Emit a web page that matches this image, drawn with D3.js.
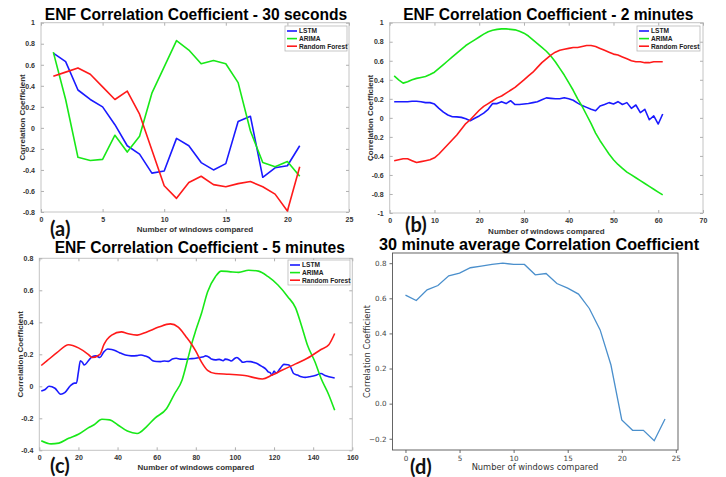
<!DOCTYPE html>
<html>
<head>
<meta charset="UTF-8">
<script src="https://cdn.jsdelivr.net/npm/d3@7"></script>
<style>
  body { margin: 0; background: #fff; }
  svg { display: block; }
  .mt text { font-family: "Liberation Sans", Arial, sans-serif; font-weight: bold; }
  .py text { font-family: "DejaVu Sans", sans-serif; }
  .py text.ttl { font-family: "Liberation Sans", Arial, sans-serif; font-weight: bold; }
</style>
</head>
<body>
<svg width="726" height="477"></svg>
<script>
// (a) 30 seconds, windows 1..21
var aX = d3.range(1, 22);
var aLSTM = [0.71, 0.63, 0.36, 0.27, 0.20, 0.03, -0.17, -0.25, -0.43, -0.41, -0.10, -0.17, -0.33, -0.40, -0.34, 0.06, 0.11, -0.47, -0.38, -0.36, -0.17];
var aARIMA = [0.72, 0.27, -0.28, -0.31, -0.30, -0.07, -0.23, -0.08, 0.33, 0.58, 0.83, 0.74, 0.61, 0.64, 0.61, 0.43, -0.03, -0.33, -0.37, -0.32, -0.46];
var aRF = [0.49, 0.53, 0.57, 0.51, 0.39, 0.27, 0.35, 0.13, -0.21, -0.55, -0.67, -0.52, -0.46, -0.54, -0.56, -0.53, -0.51, -0.56, -0.63, -0.79, -0.37];

// (b) 2 minutes, windows 1..61
var bX = d3.range(1, 62);
var bLSTM = [0.17, 0.17, 0.17, 0.17, 0.174, 0.174, 0.17, 0.16, 0.16, 0.145,
  0.10, 0.06, 0.03, 0.012, 0.01, 0.005, -0.01, -0.03, -0.005, 0.02,
  0.05, 0.09, 0.15, 0.15, 0.17, 0.15, 0.18, 0.14, 0.14, 0.145,
  0.15, 0.16, 0.17, 0.19, 0.21, 0.205, 0.20, 0.20, 0.212, 0.20,
  0.185, 0.155, 0.13, 0.11, 0.09, 0.075, 0.125, 0.14, 0.16, 0.146,
  0.17, 0.14, 0.16, 0.10, 0.135, 0.055, 0.09, -0.02, 0.02, -0.065, 0.04];
var bARIMA = [0.44, 0.40, 0.365, 0.38, 0.40, 0.415, 0.425, 0.435, 0.455, 0.48,
  0.52, 0.56, 0.60, 0.64, 0.68, 0.72, 0.76, 0.79, 0.82, 0.85,
  0.88, 0.905, 0.92, 0.93, 0.935, 0.935, 0.93, 0.925, 0.91, 0.89,
  0.86, 0.82, 0.78, 0.74, 0.70, 0.65, 0.59, 0.52, 0.45, 0.37,
  0.29, 0.20, 0.12, 0.03, -0.06, -0.16, -0.24, -0.31, -0.38, -0.44,
  -0.49, -0.53, -0.57, -0.60, -0.63, -0.66, -0.69, -0.72, -0.75, -0.78, -0.81];
var bRF = [-0.45, -0.44, -0.43, -0.43, -0.45, -0.47, -0.46, -0.45, -0.44, -0.42,
  -0.38, -0.33, -0.28, -0.23, -0.18, -0.12, -0.06, -0.02, 0.03, 0.08,
  0.12, 0.15, 0.18, 0.21, 0.23, 0.26, 0.29, 0.32, 0.36, 0.40,
  0.44, 0.48, 0.53, 0.58, 0.62, 0.66, 0.69, 0.71, 0.72, 0.73,
  0.74, 0.74, 0.75, 0.76, 0.76, 0.75, 0.73, 0.71, 0.69, 0.67,
  0.66, 0.64, 0.62, 0.60, 0.59, 0.59, 0.58, 0.58, 0.59, 0.59, 0.59];

// (c) 5 minutes, [window, value]
var cLSTM = [[1,-0.03],[3,-0.02],[5,0.0],[8,-0.012],[11,-0.05],[13,-0.04],[16,0.005],[18,0.02],[19,0.02],[20,0.09],
  [21,0.16],[22,0.15],[23,0.133],[25,0.158],[27,0.185],[29,0.19],[31,0.18],[33,0.215],[35,0.233],[37,0.23],
  [39,0.222],[41,0.21],[44,0.195],[47,0.19],[50,0.192],[52,0.196],[54,0.19],[56,0.18],[58,0.16],[60,0.155],
  [62,0.154],[64,0.158],[66,0.156],[68,0.17],[70,0.175],[72,0.17],[74,0.169],[77,0.172],[80,0.175],[82,0.18],
  [84,0.185],[85,0.19],[87,0.18],[88,0.17],[90,0.165],[92,0.168],[94,0.16],[95,0.17],[97,0.165],[98,0.158],
  [100,0.175],[101,0.18],[103,0.16],[104,0.15],[106,0.155],[108,0.154],[110,0.148],[111,0.144],[113,0.13],[114,0.123],
  [116,0.105],[117,0.09],[118,0.085],[119,0.07],[120,0.096],[121,0.08],[123,0.11],[124,0.125],[125,0.137],[127,0.135],
  [128,0.13],[130,0.08],[132,0.07],[134,0.06],[136,0.056],[138,0.06],[141,0.067],[144,0.08],[146,0.068],[148,0.06],[151,0.052]];
var cARIMA = [[1,-0.34],[6,-0.36],[10,-0.355],[15,-0.325],[20,-0.30],[25,-0.26],[28,-0.24],[32,-0.206],[36,-0.21],[40,-0.24],
  [45,-0.28],[50,-0.295],[55,-0.25],[59,-0.20],[65,-0.14],[69,-0.05],[73,0.04],[76,0.175],[78,0.27],[80,0.35],
  [83,0.46],[86,0.59],[90,0.685],[93,0.72],[97,0.717],[102,0.712],[107,0.725],[112,0.72],[117,0.685],[122,0.633],
  [127,0.56],[131,0.49],[134,0.38],[137,0.26],[141,0.15],[144,0.05],[148,-0.054],[151,-0.15]];
var cRF = [[1,0.13],[4,0.16],[9,0.21],[15,0.26],[20,0.24],[25,0.20],[27,0.18],[31,0.20],[33,0.26],[37,0.32],
  [42,0.34],[45,0.33],[50,0.32],[55,0.34],[61,0.37],[67,0.39],[71,0.37],[75,0.31],[78,0.26],[80,0.22],
  [83,0.15],[86,0.10],[90,0.08],[97,0.075],[105,0.067],[114,0.046],[119,0.07],[124,0.10],[131,0.14],[137,0.175],
  [144,0.23],[148,0.26],[151,0.33]];

// (d) 30 minute average, windows 0..24
var dX = d3.range(0, 25);
var dAvg = [0.618, 0.587, 0.648, 0.673, 0.728, 0.743, 0.774, 0.783, 0.793, 0.80, 0.793, 0.793, 0.734, 0.741, 0.684, 0.658, 0.624, 0.542, 0.42, 0.22, -0.093, -0.152, -0.152, -0.211, -0.087];

var seriesNames = ["LSTM", "ARIMA", "Random Forest"];
var seriesColors = ["#1a1aff", "#18e818", "#ff1a1a"];

var svg = d3.select("svg");

function toPairs(xs, ys) { return xs.map(function(x, i) { return [x, ys[i]]; }); }

// matlab style panel
function matlabPanel(o) {
  var g = svg.append("g").attr("class", "mt");
  var x = d3.scaleLinear().domain(o.xDom).range([o.left, o.right]);
  var y = d3.scaleLinear().domain(o.yDom).range([o.bottom, o.top]);
  var xt = d3.range(o.xDom[0], o.xDom[1] + 0.001, o.xStep);
  var yt = d3.range(o.yDom[0], o.yDom[1] + 0.001, o.yStep);
  var fmt = function(v) { v = Math.round(v * 10) / 10; return v == 0 ? "0" : String(v); };

  g.append("rect").attr("x", o.left).attr("y", o.top)
    .attr("width", o.right - o.left).attr("height", o.bottom - o.top)
    .attr("fill", "none").attr("stroke", "#c4c4c4").attr("stroke-width", 1);

  // inward ticks on all four sides
  g.append("g").attr("transform", "translate(0," + o.bottom + ")")
    .call(d3.axisBottom(x).tickValues(xt).tickSizeInner(-3).tickSizeOuter(0).tickPadding(5).tickFormat(fmt))
    .call(styleAxis);
  g.append("g").attr("transform", "translate(0," + o.top + ")")
    .call(d3.axisTop(x).tickValues(xt).tickSizeInner(-3).tickSizeOuter(0).tickFormat(""))
    .call(styleAxis);
  g.append("g").attr("transform", "translate(" + o.left + ",0)")
    .call(d3.axisLeft(y).tickValues(yt).tickSizeInner(-3).tickSizeOuter(0).tickPadding(6).tickFormat(fmt))
    .call(styleAxis);
  g.append("g").attr("transform", "translate(" + o.right + ",0)")
    .call(d3.axisRight(y).tickValues(yt).tickSizeInner(-3).tickSizeOuter(0).tickFormat(""))
    .call(styleAxis);

  var line = d3.line().x(function(d) { return x(d[0]); }).y(function(d) { return y(d[1]); });
  if (o.curve) line.curve(o.curve);
  o.series.forEach(function(s, i) {
    g.append("path").datum(s).attr("d", line)
      .attr("fill", "none").attr("stroke", seriesColors[i]).attr("stroke-width", 1.6)
      .attr("stroke-linejoin", "round");
  });

  // legend
  var lg = g.append("g").attr("transform", "translate(" + o.leg[0] + "," + o.leg[1] + ")");
  lg.append("rect").attr("width", o.leg[2]).attr("height", 25)
    .attr("fill", "#fff").attr("stroke", "#b8b8b8").attr("stroke-width", 0.8);
  seriesNames.forEach(function(n, i) {
    var yy = 5 + i * 7.6;
    lg.append("line").attr("x1", 2).attr("x2", 12).attr("y1", yy).attr("y2", yy)
      .attr("stroke", seriesColors[i]).attr("stroke-width", 1.6);
    lg.append("text").attr("x", 14).attr("y", yy + 2.4).attr("font-size", 6.6)
      .attr("fill", "#222").text(n);
  });

  var cx = (o.left + o.right) / 2;
  g.append("text").attr("x", cx + o.titleDx).attr("y", o.titleY).attr("text-anchor", "middle")
    .attr("font-size", 15.6).attr("fill", "#000").text(o.title);
  g.append("text").attr("x", cx).attr("y", o.xLabY).attr("text-anchor", "middle")
    .attr("font-size", 8).attr("fill", "#333").text("Number of windows compared");
  g.append("text").attr("transform", "translate(" + o.yLabX + "," + ((o.top + o.bottom) / 2) + ") rotate(-90)")
    .attr("text-anchor", "middle").attr("dy", "0.35em")
    .attr("font-size", 8).attr("fill", "#333").text("Correlation Coefficient");
}

function styleAxis(sel) {
  sel.select(".domain").remove();
  sel.selectAll(".tick line").attr("stroke", "#b0b0b0");
  sel.selectAll(".tick text").attr("font-size", 7).attr("fill", "#333");
}

matlabPanel({
  left: 41, right: 349, top: 22.7, bottom: 212,
  xDom: [0, 25], xStep: 5, yDom: [-0.8, 1], yStep: 0.2,
  series: [toPairs(aX, aLSTM), toPairs(aX, aARIMA), toPairs(aX, aRF)],
  leg: [285, 26, 62], title: "ENF Correlation Coefficient - 30 seconds",
  titleDx: 1, titleY: 20, xLabY: 232, yLabX: 22
});

matlabPanel({
  left: 389.7, right: 703, top: 22.7, bottom: 213,
  xDom: [0, 70], xStep: 10, yDom: [-1, 1], yStep: 0.2,
  series: [toPairs(bX, bLSTM), toPairs(bX, bARIMA), toPairs(bX, bRF)],
  leg: [637, 26, 63], title: "ENF Correlation Coefficient - 2 minutes",
  titleDx: 2, titleY: 20, xLabY: 234, yLabX: 370
});

matlabPanel({
  left: 39.3, right: 352.3, top: 258.3, bottom: 450.3,
  xDom: [0, 160], xStep: 20, yDom: [-0.4, 0.8], yStep: 0.2,
  series: [cLSTM, cARIMA, cRF], curve: d3.curveMonotoneX,
  leg: [288, 260, 62], title: "ENF Correlation Coefficient - 5 minutes",
  titleDx: 4, titleY: 253, xLabY: 470, yLabX: 20
});

// matplotlib style panel (d)
(function() {
  var g = svg.append("g").attr("class", "py");
  var left = 392.5, right = 678, top = 253, bottom = 450;
  var x = d3.scaleLinear().domain([-1.2, 25.2]).range([left, right]);
  var y = d3.scaleLinear().domain([-0.264, 0.858]).range([bottom, top]);
  var minus = function(v) { return d3.format(".1f")(v).replace("-", "\u2212"); };

  var ax = g.append("g").attr("transform", "translate(0," + bottom + ")")
    .call(d3.axisBottom(x).tickValues([0, 5, 10, 15, 20, 25]).tickSize(3).tickPadding(3).tickFormat(d3.format("d")));
  var ay = g.append("g").attr("transform", "translate(" + left + ",0)")
    .call(d3.axisLeft(y).tickValues([-0.2, 0, 0.2, 0.4, 0.6, 0.8]).tickSize(3).tickPadding(3).tickFormat(minus));
  [ax, ay].forEach(function(a) {
    a.select(".domain").remove();
    a.selectAll(".tick line").attr("stroke", "#444").attr("stroke-width", 0.8);
    a.selectAll(".tick text").attr("font-size", 7.2).attr("fill", "#444");
  });
  g.append("rect").attr("x", left).attr("y", top).attr("width", right - left).attr("height", bottom - top)
    .attr("fill", "none").attr("stroke", "#555").attr("stroke-width", 0.9);

  g.append("path").datum(toPairs(dX, dAvg))
    .attr("d", d3.line().x(function(d) { return x(d[0]); }).y(function(d) { return y(d[1]); }))
    .attr("fill", "none").attr("stroke", "#4a8fcc").attr("stroke-width", 1.3);

  g.append("text").attr("class", "ttl").attr("x", 539).attr("y", 250).attr("text-anchor", "middle")
    .attr("font-size", 16.2).attr("fill", "#000").text("30 minute average Correlation Coefficient");
  g.append("text").attr("x", 535).attr("y", 470).attr("text-anchor", "middle")
    .attr("font-size", 8.3).attr("fill", "#333").text("Number of windows compared");
  g.append("text").attr("transform", "translate(367," + ((top + bottom) / 2) + ") rotate(-90)")
    .attr("text-anchor", "middle").attr("dy", "0.35em")
    .attr("font-size", 8.3).attr("fill", "#333").text("Correlation Coefficient");
})();

// panel letters
var letters = [["(a)", 50, 236], ["(b)", 405, 232], ["(c)", 50, 473], ["(d)", 410, 474]];
svg.selectAll("text.letter").data(letters).enter().append("text").attr("class", "letter")
  .attr("x", function(d) { return d[1]; }).attr("y", function(d) { return d[2]; })
  .attr("font-family", "Lato, 'Open Sans', sans-serif").attr("font-weight", "bold")
  .attr("font-size", 20).attr("fill", "#111").text(function(d) { return d[0]; });
</script>
</body>
</html>
